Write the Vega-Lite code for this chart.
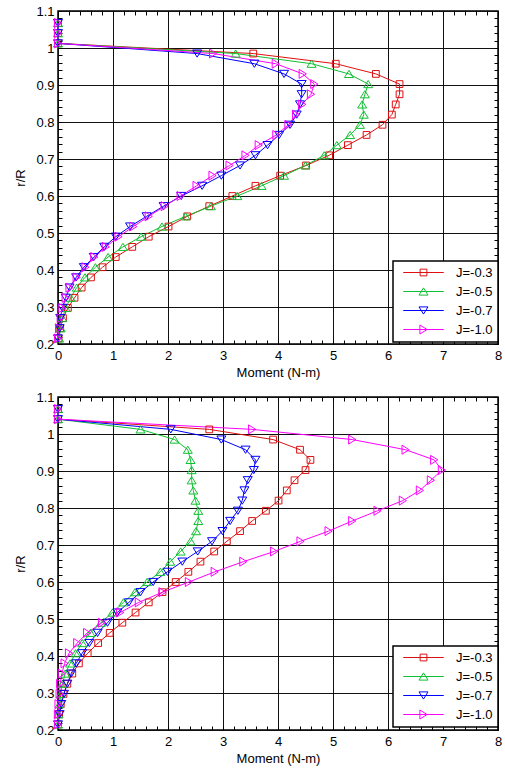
{
  "$schema": "https://vega.github.io/schema/vega-lite/v6.json",
  "padding": {"left": 14, "top": 4, "right": 0, "bottom": 0},
  "background": "white",
  "spacing": 10,
  "config": {
    "font": "Liberation Sans",
    "view": {"stroke": "black", "strokeWidth": 1.5},
    "axis": {"labelFontSize": 13, "labelColor": "black", "titleFontSize": 13, "titleFontWeight": "normal", "titleColor": "black", "labelFlush": false},
    "legend": {"labelFontSize": 13, "labelColor": "black"}
  },
  "datasets": {
    "top": [
      {"J":"J=-0.3","r":0.215,"m":0.01},{"J":"J=-0.3","r":0.2425,"m":0.04},{"J":"J=-0.3","r":0.27,"m":0.09},{"J":"J=-0.3","r":0.2975,"m":0.18},{"J":"J=-0.3","r":0.325,"m":0.30},{"J":"J=-0.3","r":0.3525,"m":0.43},{"J":"J=-0.3","r":0.38,"m":0.60},{"J":"J=-0.3","r":0.4075,"m":0.81},{"J":"J=-0.3","r":0.435,"m":1.05},{"J":"J=-0.3","r":0.4625,"m":1.35},{"J":"J=-0.3","r":0.49,"m":1.65},{"J":"J=-0.3","r":0.5175,"m":2.01},{"J":"J=-0.3","r":0.545,"m":2.35},{"J":"J=-0.3","r":0.5725,"m":2.75},{"J":"J=-0.3","r":0.6,"m":3.17},{"J":"J=-0.3","r":0.6275,"m":3.59},{"J":"J=-0.3","r":0.655,"m":4.04},{"J":"J=-0.3","r":0.6825,"m":4.51},{"J":"J=-0.3","r":0.71,"m":4.93},{"J":"J=-0.3","r":0.7375,"m":5.27},{"J":"J=-0.3","r":0.765,"m":5.61},{"J":"J=-0.3","r":0.7925,"m":5.90},{"J":"J=-0.3","r":0.82,"m":6.07},{"J":"J=-0.3","r":0.8475,"m":6.14},{"J":"J=-0.3","r":0.875,"m":6.21},{"J":"J=-0.3","r":0.9025,"m":6.21},{"J":"J=-0.3","r":0.93,"m":5.78},{"J":"J=-0.3","r":0.9575,"m":5.05},{"J":"J=-0.3","r":0.985,"m":3.55},{"J":"J=-0.3","r":1.0125,"m":0},{"J":"J=-0.3","r":1.04,"m":0},{"J":"J=-0.3","r":1.0675,"m":0},
      {"J":"J=-0.5","r":0.215,"m":0.02},{"J":"J=-0.5","r":0.2425,"m":0.05},{"J":"J=-0.5","r":0.27,"m":0.08},{"J":"J=-0.5","r":0.2975,"m":0.14},{"J":"J=-0.5","r":0.325,"m":0.23},{"J":"J=-0.5","r":0.3525,"m":0.34},{"J":"J=-0.5","r":0.38,"m":0.49},{"J":"J=-0.5","r":0.4075,"m":0.68},{"J":"J=-0.5","r":0.435,"m":0.91},{"J":"J=-0.5","r":0.4625,"m":1.18},{"J":"J=-0.5","r":0.49,"m":1.51},{"J":"J=-0.5","r":0.5175,"m":1.89},{"J":"J=-0.5","r":0.545,"m":2.32},{"J":"J=-0.5","r":0.5725,"m":2.78},{"J":"J=-0.5","r":0.6,"m":3.26},{"J":"J=-0.5","r":0.6275,"m":3.70},{"J":"J=-0.5","r":0.655,"m":4.11},{"J":"J=-0.5","r":0.6825,"m":4.50},{"J":"J=-0.5","r":0.71,"m":4.84},{"J":"J=-0.5","r":0.7375,"m":5.07},{"J":"J=-0.5","r":0.765,"m":5.31},{"J":"J=-0.5","r":0.7925,"m":5.49},{"J":"J=-0.5","r":0.82,"m":5.56},{"J":"J=-0.5","r":0.8475,"m":5.53},{"J":"J=-0.5","r":0.875,"m":5.58},{"J":"J=-0.5","r":0.9025,"m":5.64},{"J":"J=-0.5","r":0.93,"m":5.29},{"J":"J=-0.5","r":0.9575,"m":4.61},{"J":"J=-0.5","r":0.985,"m":3.23},{"J":"J=-0.5","r":1.0125,"m":0},{"J":"J=-0.5","r":1.04,"m":0},{"J":"J=-0.5","r":1.0675,"m":0},
      {"J":"J=-0.7","r":0.215,"m":0.0},{"J":"J=-0.7","r":0.2425,"m":0.03},{"J":"J=-0.7","r":0.27,"m":0.04},{"J":"J=-0.7","r":0.2975,"m":0.08},{"J":"J=-0.7","r":0.325,"m":0.14},{"J":"J=-0.7","r":0.3525,"m":0.21},{"J":"J=-0.7","r":0.38,"m":0.33},{"J":"J=-0.7","r":0.4075,"m":0.47},{"J":"J=-0.7","r":0.435,"m":0.65},{"J":"J=-0.7","r":0.4625,"m":0.84},{"J":"J=-0.7","r":0.49,"m":1.05},{"J":"J=-0.7","r":0.5175,"m":1.31},{"J":"J=-0.7","r":0.545,"m":1.61},{"J":"J=-0.7","r":0.5725,"m":1.92},{"J":"J=-0.7","r":0.6,"m":2.24},{"J":"J=-0.7","r":0.6275,"m":2.62},{"J":"J=-0.7","r":0.655,"m":2.97},{"J":"J=-0.7","r":0.6825,"m":3.31},{"J":"J=-0.7","r":0.71,"m":3.59},{"J":"J=-0.7","r":0.7375,"m":3.81},{"J":"J=-0.7","r":0.765,"m":4.02},{"J":"J=-0.7","r":0.7925,"m":4.22},{"J":"J=-0.7","r":0.82,"m":4.34},{"J":"J=-0.7","r":0.8475,"m":4.40},{"J":"J=-0.7","r":0.875,"m":4.43},{"J":"J=-0.7","r":0.9025,"m":4.43},{"J":"J=-0.7","r":0.93,"m":4.11},{"J":"J=-0.7","r":0.9575,"m":3.57},{"J":"J=-0.7","r":0.985,"m":2.53},{"J":"J=-0.7","r":1.0125,"m":0},{"J":"J=-0.7","r":1.04,"m":0},{"J":"J=-0.7","r":1.0675,"m":0},
      {"J":"J=-1.0","r":0.215,"m":0.0},{"J":"J=-1.0","r":0.2425,"m":0.02},{"J":"J=-1.0","r":0.27,"m":0.05},{"J":"J=-1.0","r":0.2975,"m":0.08},{"J":"J=-1.0","r":0.325,"m":0.14},{"J":"J=-1.0","r":0.3525,"m":0.21},{"J":"J=-1.0","r":0.38,"m":0.34},{"J":"J=-1.0","r":0.4075,"m":0.50},{"J":"J=-1.0","r":0.435,"m":0.66},{"J":"J=-1.0","r":0.4625,"m":0.87},{"J":"J=-1.0","r":0.49,"m":1.10},{"J":"J=-1.0","r":0.5175,"m":1.37},{"J":"J=-1.0","r":0.545,"m":1.65},{"J":"J=-1.0","r":0.5725,"m":1.94},{"J":"J=-1.0","r":0.6,"m":2.23},{"J":"J=-1.0","r":0.6275,"m":2.52},{"J":"J=-1.0","r":0.655,"m":2.81},{"J":"J=-1.0","r":0.6825,"m":3.12},{"J":"J=-1.0","r":0.71,"m":3.41},{"J":"J=-1.0","r":0.7375,"m":3.65},{"J":"J=-1.0","r":0.765,"m":3.97},{"J":"J=-1.0","r":0.7925,"m":4.19},{"J":"J=-1.0","r":0.82,"m":4.33},{"J":"J=-1.0","r":0.8475,"m":4.44},{"J":"J=-1.0","r":0.875,"m":4.60},{"J":"J=-1.0","r":0.9025,"m":4.66},{"J":"J=-1.0","r":0.93,"m":4.45},{"J":"J=-1.0","r":0.9575,"m":3.96},{"J":"J=-1.0","r":0.985,"m":2.82},{"J":"J=-1.0","r":1.0125,"m":0},{"J":"J=-1.0","r":1.04,"m":0},{"J":"J=-1.0","r":1.0675,"m":0}
    ],
    "bottom": [
      {"J":"J=-0.3","r":0.215,"m":0.0},{"J":"J=-0.3","r":0.2425,"m":0.02},{"J":"J=-0.3","r":0.27,"m":0.05},{"J":"J=-0.3","r":0.2975,"m":0.10},{"J":"J=-0.3","r":0.325,"m":0.17},{"J":"J=-0.3","r":0.3525,"m":0.26},{"J":"J=-0.3","r":0.38,"m":0.38},{"J":"J=-0.3","r":0.4075,"m":0.54},{"J":"J=-0.3","r":0.435,"m":0.73},{"J":"J=-0.3","r":0.4625,"m":0.94},{"J":"J=-0.3","r":0.49,"m":1.17},{"J":"J=-0.3","r":0.5175,"m":1.41},{"J":"J=-0.3","r":0.545,"m":1.65},{"J":"J=-0.3","r":0.5725,"m":1.90},{"J":"J=-0.3","r":0.6,"m":2.14},{"J":"J=-0.3","r":0.6275,"m":2.37},{"J":"J=-0.3","r":0.655,"m":2.59},{"J":"J=-0.3","r":0.6825,"m":2.84},{"J":"J=-0.3","r":0.71,"m":3.07},{"J":"J=-0.3","r":0.7375,"m":3.31},{"J":"J=-0.3","r":0.765,"m":3.53},{"J":"J=-0.3","r":0.7925,"m":3.78},{"J":"J=-0.3","r":0.82,"m":4.01},{"J":"J=-0.3","r":0.8475,"m":4.16},{"J":"J=-0.3","r":0.875,"m":4.30},{"J":"J=-0.3","r":0.9025,"m":4.50},{"J":"J=-0.3","r":0.93,"m":4.59},{"J":"J=-0.3","r":0.9575,"m":4.40},{"J":"J=-0.3","r":0.985,"m":3.91},{"J":"J=-0.3","r":1.0125,"m":2.75},{"J":"J=-0.3","r":1.04,"m":0},{"J":"J=-0.3","r":1.0675,"m":0},
      {"J":"J=-0.5","r":0.215,"m":0.0},{"J":"J=-0.5","r":0.2425,"m":0.01},{"J":"J=-0.5","r":0.27,"m":0.03},{"J":"J=-0.5","r":0.2975,"m":0.05},{"J":"J=-0.5","r":0.325,"m":0.08},{"J":"J=-0.5","r":0.3525,"m":0.13},{"J":"J=-0.5","r":0.38,"m":0.22},{"J":"J=-0.5","r":0.4075,"m":0.32},{"J":"J=-0.5","r":0.435,"m":0.44},{"J":"J=-0.5","r":0.4625,"m":0.59},{"J":"J=-0.5","r":0.49,"m":0.78},{"J":"J=-0.5","r":0.5175,"m":0.99},{"J":"J=-0.5","r":0.545,"m":1.19},{"J":"J=-0.5","r":0.5725,"m":1.40},{"J":"J=-0.5","r":0.6,"m":1.62},{"J":"J=-0.5","r":0.6275,"m":1.86},{"J":"J=-0.5","r":0.655,"m":2.04},{"J":"J=-0.5","r":0.6825,"m":2.23},{"J":"J=-0.5","r":0.71,"m":2.41},{"J":"J=-0.5","r":0.7375,"m":2.51},{"J":"J=-0.5","r":0.765,"m":2.55},{"J":"J=-0.5","r":0.7925,"m":2.55},{"J":"J=-0.5","r":0.82,"m":2.50},{"J":"J=-0.5","r":0.8475,"m":2.46},{"J":"J=-0.5","r":0.875,"m":2.43},{"J":"J=-0.5","r":0.9025,"m":2.43},{"J":"J=-0.5","r":0.93,"m":2.41},{"J":"J=-0.5","r":0.9575,"m":2.36},{"J":"J=-0.5","r":0.985,"m":2.12},{"J":"J=-0.5","r":1.0125,"m":1.50},{"J":"J=-0.5","r":1.04,"m":0},{"J":"J=-0.5","r":1.0675,"m":0},
      {"J":"J=-0.7","r":0.215,"m":0.0},{"J":"J=-0.7","r":0.2425,"m":0.03},{"J":"J=-0.7","r":0.27,"m":0.06},{"J":"J=-0.7","r":0.2975,"m":0.11},{"J":"J=-0.7","r":0.325,"m":0.17},{"J":"J=-0.7","r":0.3525,"m":0.24},{"J":"J=-0.7","r":0.38,"m":0.33},{"J":"J=-0.7","r":0.4075,"m":0.44},{"J":"J=-0.7","r":0.435,"m":0.57},{"J":"J=-0.7","r":0.4625,"m":0.72},{"J":"J=-0.7","r":0.49,"m":0.90},{"J":"J=-0.7","r":0.5175,"m":1.08},{"J":"J=-0.7","r":0.545,"m":1.29},{"J":"J=-0.7","r":0.5725,"m":1.50},{"J":"J=-0.7","r":0.6,"m":1.73},{"J":"J=-0.7","r":0.6275,"m":1.99},{"J":"J=-0.7","r":0.655,"m":2.26},{"J":"J=-0.7","r":0.6825,"m":2.54},{"J":"J=-0.7","r":0.71,"m":2.80},{"J":"J=-0.7","r":0.7375,"m":2.99},{"J":"J=-0.7","r":0.765,"m":3.13},{"J":"J=-0.7","r":0.7925,"m":3.27},{"J":"J=-0.7","r":0.82,"m":3.35},{"J":"J=-0.7","r":0.8475,"m":3.39},{"J":"J=-0.7","r":0.875,"m":3.45},{"J":"J=-0.7","r":0.9025,"m":3.56},{"J":"J=-0.7","r":0.93,"m":3.59},{"J":"J=-0.7","r":0.9575,"m":3.41},{"J":"J=-0.7","r":0.985,"m":2.97},{"J":"J=-0.7","r":1.0125,"m":2.05},{"J":"J=-0.7","r":1.04,"m":0},{"J":"J=-0.7","r":1.0675,"m":0},
      {"J":"J=-1.0","r":0.215,"m":0.0},{"J":"J=-1.0","r":0.2425,"m":0.0},{"J":"J=-1.0","r":0.27,"m":0.01},{"J":"J=-1.0","r":0.2975,"m":0.03},{"J":"J=-1.0","r":0.325,"m":0.04},{"J":"J=-1.0","r":0.3525,"m":0.07},{"J":"J=-1.0","r":0.38,"m":0.12},{"J":"J=-1.0","r":0.4075,"m":0.20},{"J":"J=-1.0","r":0.435,"m":0.35},{"J":"J=-1.0","r":0.4625,"m":0.53},{"J":"J=-1.0","r":0.49,"m":0.80},{"J":"J=-1.0","r":0.5175,"m":1.13},{"J":"J=-1.0","r":0.545,"m":1.47},{"J":"J=-1.0","r":0.5725,"m":1.90},{"J":"J=-1.0","r":0.6,"m":2.38},{"J":"J=-1.0","r":0.6275,"m":2.85},{"J":"J=-1.0","r":0.655,"m":3.37},{"J":"J=-1.0","r":0.6825,"m":3.93},{"J":"J=-1.0","r":0.71,"m":4.41},{"J":"J=-1.0","r":0.7375,"m":4.92},{"J":"J=-1.0","r":0.765,"m":5.35},{"J":"J=-1.0","r":0.7925,"m":5.81},{"J":"J=-1.0","r":0.82,"m":6.27},{"J":"J=-1.0","r":0.8475,"m":6.58},{"J":"J=-1.0","r":0.875,"m":6.78},{"J":"J=-1.0","r":0.9025,"m":6.98},{"J":"J=-1.0","r":0.93,"m":6.84},{"J":"J=-1.0","r":0.9575,"m":6.32},{"J":"J=-1.0","r":0.985,"m":5.35},{"J":"J=-1.0","r":1.0125,"m":3.53},{"J":"J=-1.0","r":1.04,"m":0},{"J":"J=-1.0","r":1.0675,"m":0}
    ]
  },
  "vconcat": [
    {
      "width": 440, "height": 333,
      "data": {"name": "top"},
      "resolve": {"axis": {"x": "independent", "y": "independent"}},
      "layer": [
        {
          "mark": {"type": "line", "strokeWidth": 1},
          "encoding": {
            "x": {"field": "m", "type": "quantitative", "scale": {"domain": [0, 8], "nice": false, "zero": false},
                  "axis": {"orient": "bottom", "title": "Moment (N-m)", "tickCount": 8, "grid": true, "gridColor": "#111111", "gridWidth": 1, "ticks": false, "domain": false, "labelPadding": 5, "titlePadding": 4}},
            "y": {"field": "r", "type": "quantitative", "scale": {"domain": [0.2, 1.1], "nice": false, "zero": false},
                  "axis": {"orient": "left", "title": "r/R", "tickCount": 9, "format": "~g", "grid": true, "gridColor": "#111111", "gridWidth": 1, "ticks": false, "domain": false, "labelPadding": 4, "titlePadding": 8}},
            "color": {"field": "J", "type": "nominal", "scale": {"range": ["#dd1111", "#11c033", "#0000ff", "#ff00ff"]},
                      "legend": {"title": null, "orient": "none", "legendX": 335, "legendY": 250, "padding": 5, "rowPadding": 5, "symbolOffset": 19, "labelOffset": 26, "strokeColor": "black", "fillColor": "white", "symbolSize": 81, "symbolStrokeWidth": 1, "labelFontSize": 13, "labelColor": "black", "encode": {"legend": {"update": {"strokeWidth": {"value": 1.5}}}, "symbols": {"update": {"fill": {"value": "transparent"}, "size": {"value": 81}, "strokeWidth": {"value": 1}, "opacity": {"value": 1}, "shape": {"signal": "datum.value === 'J=-0.3' ? 'M-4.5,0L4.5,0M-0.75,-0.75L0.75,-0.75L0.75,0.75L-0.75,0.75Z' : datum.value === 'J=-0.5' ? 'M-4.5,0L4.5,0M0,-0.8L1,0.8L-1,0.8Z' : datum.value === 'J=-0.7' ? 'M-4.5,0L4.5,0M0,0.8L1,-0.8L-1,-0.8Z' : 'M-4.5,0L4.5,0M0.8,0L-0.8,-1L-0.8,1Z'"}}}}}},
            "order": {"field": "r", "type": "quantitative"}
          }
        },
        {
          "mark": {"type": "point", "filled": false, "size": 81, "strokeWidth": 1, "opacity": 1},
          "encoding": {
            "x": {"field": "m", "type": "quantitative", "axis": {"orient": "bottom", "tickCount": 40, "labels": false, "grid": false, "domain": false, "tickSize": 4, "offset": -4, "tickColor": "black", "title": null}},
            "y": {"field": "r", "type": "quantitative", "axis": {"orient": "left", "tickCount": 45, "labels": false, "grid": false, "domain": false, "tickSize": 4, "offset": -4, "tickColor": "black", "title": null}},
            "color": {"field": "J", "type": "nominal", "scale": {"range": ["#dd1111", "#11c033", "#0000ff", "#ff00ff"]},
                      "legend": {"title": null, "orient": "none", "legendX": 335, "legendY": 250, "padding": 5, "rowPadding": 5, "symbolOffset": 19, "labelOffset": 26, "strokeColor": "black", "fillColor": "white", "symbolSize": 81, "symbolStrokeWidth": 1, "labelFontSize": 13, "labelColor": "black", "encode": {"legend": {"update": {"strokeWidth": {"value": 1.5}}}, "symbols": {"update": {"fill": {"value": "transparent"}, "size": {"value": 81}, "strokeWidth": {"value": 1}, "opacity": {"value": 1}, "shape": {"signal": "datum.value === 'J=-0.3' ? 'M-4.5,0L4.5,0M-0.75,-0.75L0.75,-0.75L0.75,0.75L-0.75,0.75Z' : datum.value === 'J=-0.5' ? 'M-4.5,0L4.5,0M0,-0.8L1,0.8L-1,0.8Z' : datum.value === 'J=-0.7' ? 'M-4.5,0L4.5,0M0,0.8L1,-0.8L-1,-0.8Z' : 'M-4.5,0L4.5,0M0.8,0L-0.8,-1L-0.8,1Z'"}}}}}},
            "shape": {"field": "J", "type": "nominal", "legend": null, "scale": {"domain": ["J=-0.3", "J=-0.5", "J=-0.7", "J=-1.0"], "range": ["M-0.75,-0.75L0.75,-0.75L0.75,0.75L-0.75,0.75Z", "M0,-0.8L1,0.8L-1,0.8Z", "M0,0.8L1,-0.8L-1,-0.8Z", "M0.8,0L-0.8,-1L-0.8,1Z"]}}
          }
        },
        {
          "mark": {"type": "point", "opacity": 0},
          "encoding": {
            "x": {"field": "m", "type": "quantitative", "axis": {"orient": "top", "tickCount": 40, "labels": false, "grid": false, "domain": false, "tickSize": 4, "offset": -4, "tickColor": "black", "title": null}},
            "y": {"field": "r", "type": "quantitative", "axis": {"orient": "right", "tickCount": 45, "labels": false, "grid": false, "domain": false, "tickSize": 4, "offset": -4, "tickColor": "black", "title": null}}
          }
        }
      ]
    },
    {
      "width": 440, "height": 333,
      "data": {"name": "bottom"},
      "resolve": {"axis": {"x": "independent", "y": "independent"}},
      "layer": [
        {
          "mark": {"type": "line", "strokeWidth": 1},
          "encoding": {
            "x": {"field": "m", "type": "quantitative", "scale": {"domain": [0, 8], "nice": false, "zero": false},
                  "axis": {"orient": "bottom", "title": "Moment (N-m)", "tickCount": 8, "grid": true, "gridColor": "#111111", "gridWidth": 1, "ticks": false, "domain": false, "labelPadding": 5, "titlePadding": 4}},
            "y": {"field": "r", "type": "quantitative", "scale": {"domain": [0.2, 1.1], "nice": false, "zero": false},
                  "axis": {"orient": "left", "title": "r/R", "tickCount": 9, "format": "~g", "grid": true, "gridColor": "#111111", "gridWidth": 1, "ticks": false, "domain": false, "labelPadding": 4, "titlePadding": 8}},
            "stroke": {"field": "J", "type": "nominal", "scale": {"range": ["#dd1111", "#11c033", "#0000ff", "#ff00ff"]},
                       "legend": {"title": null, "orient": "none", "legendX": 335, "legendY": 635, "padding": 5, "rowPadding": 5, "symbolOffset": 19, "labelOffset": 26, "strokeColor": "black", "fillColor": "white", "symbolSize": 81, "symbolStrokeWidth": 1, "labelFontSize": 13, "labelColor": "black", "encode": {"legend": {"update": {"strokeWidth": {"value": 1.5}}}, "symbols": {"update": {"fill": {"value": "transparent"}, "size": {"value": 81}, "strokeWidth": {"value": 1}, "opacity": {"value": 1}, "shape": {"signal": "datum.value === 'J=-0.3' ? 'M-4.5,0L4.5,0M-0.75,-0.75L0.75,-0.75L0.75,0.75L-0.75,0.75Z' : datum.value === 'J=-0.5' ? 'M-4.5,0L4.5,0M0,-0.8L1,0.8L-1,0.8Z' : datum.value === 'J=-0.7' ? 'M-4.5,0L4.5,0M0,0.8L1,-0.8L-1,-0.8Z' : 'M-4.5,0L4.5,0M0.8,0L-0.8,-1L-0.8,1Z'"}}}}}},
            "order": {"field": "r", "type": "quantitative"}
          }
        },
        {
          "mark": {"type": "point", "filled": false, "size": 81, "strokeWidth": 1, "opacity": 1},
          "encoding": {
            "x": {"field": "m", "type": "quantitative", "axis": {"orient": "bottom", "tickCount": 40, "labels": false, "grid": false, "domain": false, "tickSize": 4, "offset": -4, "tickColor": "black", "title": null}},
            "y": {"field": "r", "type": "quantitative", "axis": {"orient": "left", "tickCount": 45, "labels": false, "grid": false, "domain": false, "tickSize": 4, "offset": -4, "tickColor": "black", "title": null}},
            "stroke": {"field": "J", "type": "nominal", "scale": {"range": ["#dd1111", "#11c033", "#0000ff", "#ff00ff"]},
                       "legend": {"title": null, "orient": "none", "legendX": 335, "legendY": 635, "padding": 5, "rowPadding": 5, "symbolOffset": 19, "labelOffset": 26, "strokeColor": "black", "fillColor": "white", "symbolSize": 81, "symbolStrokeWidth": 1, "labelFontSize": 13, "labelColor": "black", "encode": {"legend": {"update": {"strokeWidth": {"value": 1.5}}}, "symbols": {"update": {"fill": {"value": "transparent"}, "size": {"value": 81}, "strokeWidth": {"value": 1}, "opacity": {"value": 1}, "shape": {"signal": "datum.value === 'J=-0.3' ? 'M-4.5,0L4.5,0M-0.75,-0.75L0.75,-0.75L0.75,0.75L-0.75,0.75Z' : datum.value === 'J=-0.5' ? 'M-4.5,0L4.5,0M0,-0.8L1,0.8L-1,0.8Z' : datum.value === 'J=-0.7' ? 'M-4.5,0L4.5,0M0,0.8L1,-0.8L-1,-0.8Z' : 'M-4.5,0L4.5,0M0.8,0L-0.8,-1L-0.8,1Z'"}}}}}},
            "shape": {"field": "J", "type": "nominal", "legend": null, "scale": {"domain": ["J=-0.3", "J=-0.5", "J=-0.7", "J=-1.0"], "range": ["M-0.75,-0.75L0.75,-0.75L0.75,0.75L-0.75,0.75Z", "M0,-0.8L1,0.8L-1,0.8Z", "M0,0.8L1,-0.8L-1,-0.8Z", "M0.8,0L-0.8,-1L-0.8,1Z"]}}
          }
        },
        {
          "mark": {"type": "point", "opacity": 0},
          "encoding": {
            "x": {"field": "m", "type": "quantitative", "axis": {"orient": "top", "tickCount": 40, "labels": false, "grid": false, "domain": false, "tickSize": 4, "offset": -4, "tickColor": "black", "title": null}},
            "y": {"field": "r", "type": "quantitative", "axis": {"orient": "right", "tickCount": 45, "labels": false, "grid": false, "domain": false, "tickSize": 4, "offset": -4, "tickColor": "black", "title": null}}
          }
        }
      ]
    }
  ]
}
